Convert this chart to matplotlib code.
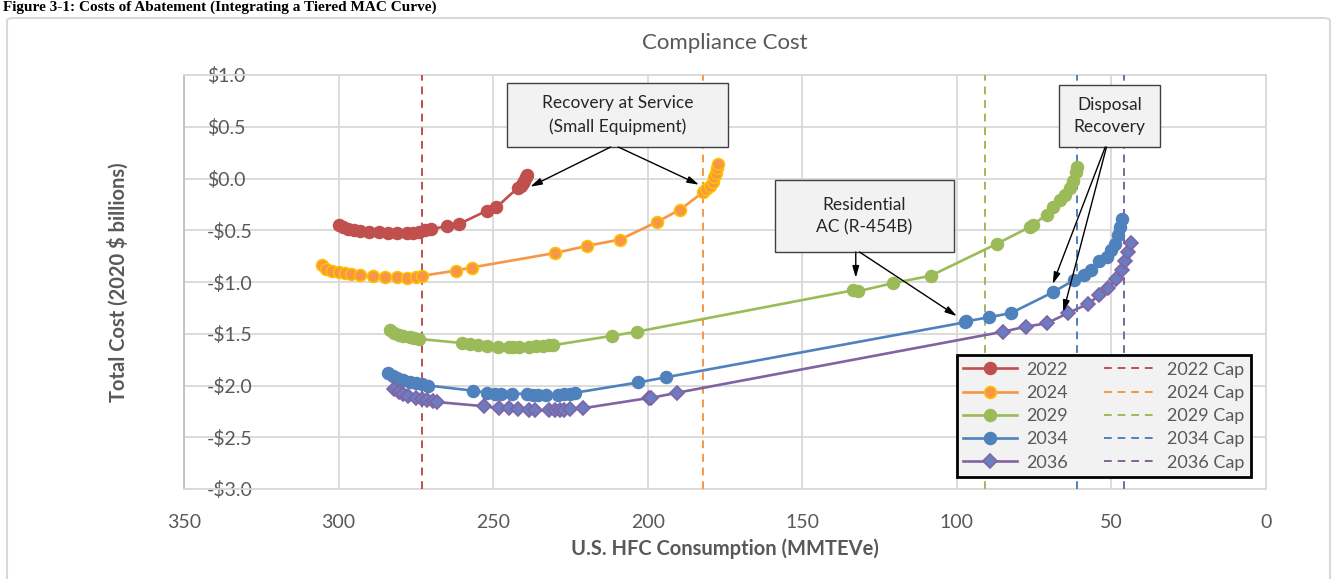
import matplotlib.pyplot as plt
from matplotlib.patches import FancyBboxPatch, Rectangle

plt.rcParams['font.family'] = ['Lato', 'DejaVu Sans']

# compliance cost curves, x = U.S. HFC consumption (MMTEVe), y = total cost ($ billions)
x_2022 = [300, 298.5, 297, 295, 293, 290, 287, 284, 281, 278, 276, 274, 272, 270, 265, 261,
          252, 249, 242, 241, 240.5, 240, 239.5, 239]
y_2022 = [-0.45, -0.47, -0.49, -0.50, -0.51, -0.52, -0.52, -0.53, -0.53, -0.53, -0.53, -0.52,
          -0.50, -0.49, -0.46, -0.44, -0.31, -0.28, -0.09, -0.07, -0.04, -0.02, 0.01, 0.03]

x_2024 = [305.5, 304, 302, 300, 298, 296, 293, 289, 285, 281, 278, 275, 273, 262, 257, 230,
          219.5, 209, 197, 189.5, 182, 181, 180, 179, 178.5, 178, 177.5, 177.3]
y_2024 = [-0.84, -0.87, -0.89, -0.90, -0.91, -0.92, -0.93, -0.94, -0.95, -0.95, -0.96, -0.95,
          -0.94, -0.89, -0.86, -0.72, -0.65, -0.59, -0.42, -0.30, -0.13, -0.10, -0.07, -0.03,
          0.01, 0.05, 0.10, 0.14]

x_2029 = [283.5, 282, 280.5, 279, 277, 275.5, 274, 260, 257.5, 255, 252, 248.5, 245, 243.5,
          241.5, 238.5, 236, 234, 232, 230.5, 211.5, 203.5, 133.5, 132, 120.5, 108.5, 87,
          76.5, 75.5, 71, 69, 66.5, 65, 63.5, 62.5, 61.5, 61]
y_2029 = [-1.46, -1.49, -1.51, -1.52, -1.53, -1.54, -1.55, -1.59, -1.60, -1.61, -1.62, -1.63,
          -1.63, -1.63, -1.63, -1.63, -1.62, -1.62, -1.61, -1.61, -1.52, -1.48, -1.08, -1.09,
          -1.01, -0.94, -0.63, -0.47, -0.45, -0.35, -0.28, -0.21, -0.16, -0.09, -0.02, 0.06, 0.11]

x_2034 = [284, 282.5, 281, 279, 277, 275, 273, 271, 256.5, 252, 249.5, 247.5, 244, 239, 237,
          235.5, 233, 229, 227, 225, 223.5, 203, 194, 97.5, 97, 89.5, 82.5, 69, 62, 59, 56.5,
          54, 51.5, 50, 49, 48, 47.2, 46.5]
y_2034 = [-1.88, -1.91, -1.93, -1.95, -1.97, -1.98, -1.99, -2.00, -2.05, -2.07, -2.08, -2.08,
          -2.08, -2.08, -2.09, -2.09, -2.09, -2.09, -2.08, -2.08, -2.07, -1.97, -1.92, -1.39,
          -1.38, -1.34, -1.30, -1.10, -0.98, -0.93, -0.88, -0.80, -0.76, -0.69, -0.63, -0.55,
          -0.47, -0.39]

x_2036 = [282, 280.5, 279, 277.5, 275, 273, 271.5, 269.5, 268, 253, 248, 245, 242, 238.5,
          236.5, 232, 230, 228.5, 227, 225, 221, 199.5, 199, 190.5, 85, 77.5, 71, 64, 57.5,
          54, 51, 48.5, 46.7, 45.6, 44.5, 43.7]
y_2036 = [-2.03, -2.06, -2.08, -2.10, -2.12, -2.13, -2.14, -2.15, -2.16, -2.20, -2.22, -2.22,
          -2.23, -2.24, -2.24, -2.24, -2.24, -2.24, -2.24, -2.23, -2.22, -2.12, -2.12, -2.07,
          -1.48, -1.43, -1.40, -1.30, -1.21, -1.13, -1.06, -0.97, -0.88, -0.80, -0.71, -0.62]

# consumption caps per year
cap_years = ['2022', '2024', '2029', '2034', '2036']
cap_values = [273, 182, 91, 61, 46]

x_ticks = [350, 300, 250, 200, 150, 100, 50, 0]
y_ticks = [1.0, 0.5, 0.0, -0.5, -1.0, -1.5, -2.0, -2.5, -3.0]
y_tick_labels = ['$1.0', '$0.5', '$0.0', '-$0.5', '-$1.0', '-$1.5', '-$2.0', '-$2.5', '-$3.0']

grey = '#595959'
series = [
    ('2022', x_2022, y_2022, '#c0504d', 'o', '#c0504d', '#c0504d', 8.5),
    ('2024', x_2024, y_2024, '#f79646', 'o', '#f79646', '#ffc000', 8.5),
    ('2029', x_2029, y_2029, '#9bbb59', 'o', '#9bbb59', '#9bbb59', 8.5),
    ('2034', x_2034, y_2034, '#4f81bd', 'o', '#4f81bd', '#4f81bd', 8.5),
    ('2036', x_2036, y_2036, '#8064a2', 'D', '#6c7cc0', '#8064a2', 7),
]
cap_colors = ['#c0504d', '#f79646', '#9bbb59', '#4f81bd', '#8064a2']

fig = plt.figure(figsize=(13.33, 5.79), dpi=100)
ax = fig.add_axes([184 / 1333, 1 - 489 / 579, 1082 / 1333, 414 / 579])

# outer chart frame
fig.patches.append(FancyBboxPatch((7 / 1333, -0.05), 1323 / 1333, 1.0 - 18 / 579 + 0.05,
                                  boxstyle='round,pad=0,rounding_size=0.005',
                                  transform=fig.transFigure, facecolor='none',
                                  edgecolor='#d9d9d9', linewidth=1.5))

# caption above the chart frame
fig.text(0.002, 1.0 - 1 / 579, 'Figure 3-1: Costs of Abatement (Integrating a Tiered MAC Curve)',
         family='Liberation Serif', fontsize=11, fontweight='bold', va='top', ha='left',
         color='black')

handles = []
for name, xs, ys, col, mk, mfc, mec, ms in series:
    h, = ax.plot(xs, ys, color=col, lw=1.9, marker=mk, markersize=ms,
                 markerfacecolor=mfc, markeredgecolor=mec, markeredgewidth=1.2,
                 label=name, zorder=4)
    handles.append(h)

for yr, cv, col in zip(cap_years, cap_values, cap_colors):
    h = ax.axvline(cv, color=col, lw=1.4, linestyle=(0, (4, 3)), label=yr + ' Cap', zorder=3)
    handles.append(h)

ax.set_xlim(350, 0)
ax.set_ylim(-3.0, 1.0)
ax.set_xticks(x_ticks)
ax.set_yticks(y_ticks)
ax.set_yticklabels(y_tick_labels)
ax.grid(True, color='#d9d9d9', lw=1.3)
ax.set_axisbelow(True)
for s in ax.spines.values():
    s.set_color('#d9d9d9')
    s.set_linewidth(1.3)
ax.spines['left'].set_color('#bfbfbf')
ax.tick_params(axis='both', length=0, labelsize=14, labelcolor=grey)
ax.tick_params(axis='x', pad=18)
ax.tick_params(axis='y', pad=-16.5)
for lbl in ax.get_yticklabels():
    lbl.set_horizontalalignment('left')

ax.set_title('Compliance Cost', fontsize=16, color=grey, pad=19)
ax.set_xlabel('U.S. HFC Consumption (MMTEVe)', fontsize=14.5, fontweight='bold',
              color=grey, labelpad=5)
ax.set_ylabel('Total Cost (2020 $ billions)', fontsize=14.5, fontweight='bold',
              color=grey, labelpad=40)

leg = ax.legend(handles=handles, ncol=2, loc='lower right', bbox_to_anchor=(0.986, 0.029),
                borderaxespad=0, fontsize=13, frameon=True, fancybox=False, framealpha=1,
                facecolor='#f2f2f2', edgecolor='black', handlelength=3.0,
                columnspacing=2.0, labelspacing=0.4, borderpad=0.35, handletextpad=0.5)
leg.get_frame().set_linewidth(2)
for t in leg.get_texts():
    t.set_color(grey)

arrow = dict(arrowstyle='-|>,head_length=0.7,head_width=0.2', color='black', lw=1.0,
             shrinkA=0, shrinkB=0)


def callout(x0, x1, y0, y1, text):
    ax.add_patch(Rectangle((x1, y1), x0 - x1, y0 - y1, facecolor='#f2f2f2',
                           edgecolor='#404040', lw=1.0, zorder=6))
    ax.text((x0 + x1) / 2, (y0 + y1) / 2, text, ha='center', va='center',
            fontsize=12.5, color='#262626', linespacing=1.5, zorder=7)


callout(245.5, 174.0, 0.923, 0.304, 'Recovery at Service\n(Small Equipment)')
ax.annotate('', xy=(238, -0.08), xytext=(212, 0.304), arrowprops=arrow, zorder=6)
ax.annotate('', xy=(183.4, -0.06), xytext=(209.5, 0.304), arrowprops=arrow, zorder=6)

callout(158.8, 100.9, -0.014, -0.71, 'Residential\nAC (R-454B)')
ax.annotate('', xy=(132.7, -0.96), xytext=(132.7, -0.71), arrowprops=arrow, zorder=6)
ax.annotate('', xy=(100, -1.33), xytext=(131.5, -0.71), arrowprops=arrow, zorder=6)

callout(66.96, 34.3, 0.903, 0.304, 'Disposal\nRecovery')
ax.annotate('', xy=(69, -1.02), xytext=(52, 0.304), arrowprops=arrow, zorder=6)
ax.annotate('', xy=(65.6, -1.29), xytext=(51.6, 0.304), arrowprops=arrow, zorder=6)

fig.savefig('out.png', dpi=100)
